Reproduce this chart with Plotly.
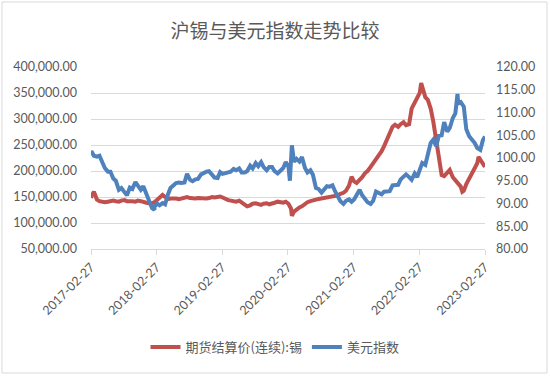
import pandas as pd
import plotly.graph_objects as go

title_text = "沪锡与美元指数走势比较"
tin_name = "期货结算价(连续):锡"
usd_name = "美元指数"

# semi-monthly sample dates (1st and 15th) between the first and last day
semi_dates = list(pd.date_range("2017-03-01", "2023-02-15", freq="SMS"))
start_date = pd.Timestamp("2017-02-27")
end_date = pd.Timestamp("2023-02-27")

# SHFE tin continuous settlement price (yuan/t)
tin_start = 148000
tin_end = 208000
tin_semi = [
    # 2017 Mar-Dec
    152000, 160000, 145000, 142000, 141000, 140000, 141000, 142000, 143000, 142000,
    141000, 143000, 144000, 142000, 143000, 142000, 141000, 143000, 142000, 140000,
    # 2018
    139000, 138000, 138000, 140000, 144000, 148000, 154000, 150000, 146000, 147000,
    148000, 147000, 146000, 147000, 148000, 150000, 148000, 147000, 147000, 148000,
    147000, 146000, 147000, 148000,
    # 2019
    150000, 149000, 150000, 151000, 149000, 146000, 144000, 143000, 142000, 141000,
    143000, 140000, 136000, 132000, 134000, 137000, 138000, 136000, 135000, 137000,
    138000, 136000, 137000, 139000,
    # 2020
    141000, 140000, 139000, 141000, 137000, 128000, 122000, 127000, 130000, 132000,
    137000, 140000, 142000, 144000, 145000, 146000, 147000, 148000, 148000, 149000,
    150000, 151000, 153000, 156000,
    # 2021
    158000, 162000, 172000, 189000, 180000, 177000, 182000, 188000, 196000, 200000,
    208000, 215000, 221000, 228000, 238000, 248000, 262000, 273000, 285000, 289000,
    285000, 290000, 294000, 288000,
    # 2022
    290000, 320000, 331000, 342000, 350000, 360000, 342000, 337000, 320000, 296000,
    258000, 220000, 192000, 190000, 198000, 202000, 188000, 182000, 177000, 170000,
    162000, 175000, 185000, 195000,
    # 2023 Jan-Feb
    205000, 215000, 222000, 212000,
]
tin_extra_dates = ["2020-03-20", "2022-03-09", "2023-01-22", "2022-10-24"]
tin_extra_values = [114000, 369000, 227000, 160000]

# US dollar index
usd_start = 101.2
usd_end = 104.7
usd_semi = [
    # 2017 Mar-Dec
    101.5, 100.5, 100.3, 100.5, 99.0, 97.8, 97.0, 97.0, 95.5, 95.0,
    93.0, 93.4, 92.5, 91.8, 93.5, 93.2, 94.7, 93.8, 93.0, 93.8,
    # 2018
    92.0, 90.5, 89.0, 89.3, 90.0, 89.6, 90.1, 89.8, 92.0, 93.4,
    94.0, 94.5, 94.6, 94.5, 94.6, 96.5, 95.2, 94.9, 95.3, 95.4,
    96.4, 96.8, 97.0, 97.1,
    # 2019
    96.4, 95.7, 95.6, 96.9, 96.5, 96.6, 96.9, 97.0, 97.6, 97.3,
    97.7, 96.8, 96.8, 97.1, 98.3, 97.7, 98.9, 98.2, 99.1, 98.0,
    97.3, 98.0, 98.0, 97.1,
    # 2020
    96.6, 97.3, 97.8, 99.1, 98.1, 98.6, 99.2, 99.8, 99.2, 100.2,
    97.8, 96.8, 97.3, 96.3, 93.4, 93.2, 92.4, 93.1, 93.8, 93.7,
    94.0, 92.7, 91.3, 90.5,
    # 2021
    89.9, 90.6, 90.9, 90.4, 90.9, 91.8, 93.0, 91.8, 91.0, 90.3,
    89.9, 90.6, 92.6, 92.4, 92.0, 92.6, 92.7, 92.7, 94.0, 94.1,
    94.1, 95.3, 96.0, 96.4,
    # 2022
    95.8, 95.2, 96.6, 95.8, 97.4, 98.9, 98.5, 100.4, 103.3, 104.0,
    102.6, 104.9, 105.0, 107.9, 105.8, 106.6, 108.8, 109.8, 112.0, 112.3,
    111.3, 106.3, 104.8, 104.2,
    # 2023 Jan-Feb
    103.3, 102.2, 101.8, 103.9,
]
usd_extra_dates = ["2018-02-15", "2020-03-09", "2020-03-20", "2022-09-27"]
usd_extra_values = [88.6, 95.0, 102.8, 114.1]

tick_dates = ["2017-02-27", "2018-02-27", "2019-02-27", "2020-02-27",
              "2021-02-27", "2022-02-27", "2023-02-27"]


def build(start_v, semi_v, end_v, extra_d, extra_v):
    s = pd.Series([start_v] + semi_v + [end_v],
                  index=[start_date] + semi_dates + [end_date])
    s = pd.concat([s, pd.Series(extra_v, index=pd.to_datetime(extra_d))])
    return s.sort_index()


tin = build(tin_start, tin_semi, tin_end, tin_extra_dates, tin_extra_values)
usd = build(usd_start, usd_semi, usd_end, usd_extra_dates, usd_extra_values)

RED = "#C0504D"
BLUE = "#4F81BD"
GRID = "#D9D9D9"
TXT = "#595959"
FONT = "Lato"
TICK_SIZE = 12.5

fig = go.Figure()
fig.add_trace(go.Scatter(x=tin.index, y=tin.values, name=tin_name, mode="lines",
                         line=dict(color=RED, width=4), yaxis="y"))
fig.add_trace(go.Scatter(x=usd.index, y=usd.values, name=usd_name, mode="lines",
                         line=dict(color=BLUE, width=4), yaxis="y2"))

W, H = 550, 376
L, R, T, B = 91, 65, 67, 127
pw, ph = W - L - R, H - T - B

fig.update_layout(
    width=W, height=H,
    margin=dict(l=L, r=R, t=T, b=B, autoexpand=False),
    paper_bgcolor="white", plot_bgcolor="white",
    font=dict(family=FONT, size=12, color=TXT),
    title=dict(text=title_text, x=0.5, xanchor="center", xref="container",
               y=1 - 31 / H, yanchor="middle", yref="container",
               font=dict(family="Noto Sans CJK SC", size=19, color=TXT)),
    showlegend=True,
    legend=dict(orientation="h", x=0.5, xanchor="center", xref="container",
                y=1 - 347 / H, yanchor="middle", yref="container",
                font=dict(family="Noto Sans CJK SC", size=13, color=TXT),
                itemwidth=30, traceorder="normal"),
    xaxis=dict(type="date", range=["2017-02-27", "2023-02-27"],
               tickvals=tick_dates, ticktext=tick_dates, tickangle=-45,
               showgrid=False, showline=True, linecolor=GRID, linewidth=1,
               ticks="outside", ticklen=5, tickcolor=GRID,
               tickfont=dict(family=FONT, size=TICK_SIZE, color=TXT),
               zeroline=False),
    yaxis=dict(range=[50000, 400000], dtick=50000, tickformat=",.2f",
               showgrid=True, gridcolor=GRID, gridwidth=1, zeroline=False,
               showline=False, ticks="", ticklen=0, ticklabelstandoff=13,
               tickfont=dict(family=FONT, size=TICK_SIZE, color=TXT)),
    yaxis2=dict(range=[80, 120], dtick=5, tickformat=".2f", overlaying="y",
                side="right", showgrid=False, zeroline=False, showline=False,
                ticklabelstandoff=10,
                tickfont=dict(family=FONT, size=TICK_SIZE, color=TXT)),
)

# outer chart border
fig.add_shape(type="rect", xref="paper", yref="paper",
              x0=(2 - L) / pw, x1=(547 - L) / pw,
              y0=(H - B - 373) / ph, y1=(H - B - 2) / ph,
              line=dict(color=GRID, width=1), fillcolor="rgba(0,0,0,0)",
              layer="below")

fig.write_html("out.html",
               config={"displayModeBar": False},
               post_script="document.body.style.margin='0';"
                           "document.body.style.overflow='hidden';")
